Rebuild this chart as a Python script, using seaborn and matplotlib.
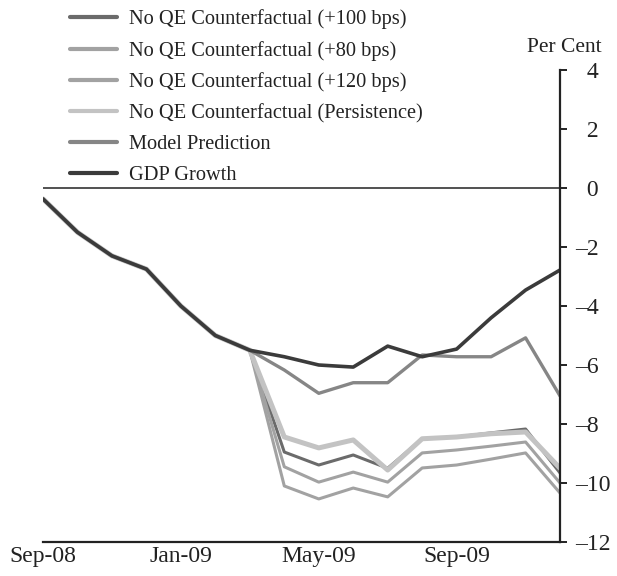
import pandas as pd
import matplotlib.pyplot as plt
import seaborn as sns

months = ['Sep-08', 'Oct-08', 'Nov-08', 'Dec-08', 'Jan-09', 'Feb-09', 'Mar-09', 'Apr-09',
          'May-09', 'Jun-09', 'Jul-09', 'Aug-09', 'Sep-09', 'Oct-09', 'Nov-09', 'Dec-09']

# common history up to Mar-09
history = [-0.37, -1.5, -2.3, -2.75, -4.0, -5.0, -5.5]

gdp = history + [-5.72, -6.0, -6.07, -5.36, -5.72, -5.46, -4.4, -3.46, -2.78]
model = history + [-6.17, -6.96, -6.6, -6.6, -5.66, -5.72, -5.72, -5.08, -7.05]
cf100 = history + [-8.95, -9.39, -9.05, -9.5, -8.5, -8.44, -8.3, -8.17, -9.66]
cf80 = history + [-9.45, -9.97, -9.63, -9.97, -8.98, -8.88, -8.75, -8.61, -10.0]
cf120 = history + [-10.1, -10.54, -10.17, -10.47, -9.49, -9.39, -9.19, -8.98, -10.34]
persist = history + [-8.44, -8.81, -8.54, -9.56, -8.5, -8.44, -8.33, -8.27, -9.5]

series = {
    'No QE Counterfactual (+100 bps)': cf100,
    'No QE Counterfactual (+80 bps)': cf80,
    'No QE Counterfactual (+120 bps)': cf120,
    'No QE Counterfactual (Persistence)': persist,
    'Model Prediction': model,
    'GDP Growth': gdp,
}
colors = ['#6b6b6b', '#a2a2a2', '#a2a2a2', '#c3c3c3', '#868686', '#3b3b3b']
widths = [2.2, 2.2, 2.2, 3.6, 2.4, 2.6]

xticks = ['Sep-08', 'Jan-09', 'May-09', 'Sep-09']
yticks = [4, 2, 0, -2, -4, -6, -8, -10, -12]

rows = []
for name, vals in series.items():
    for i, v in enumerate(vals):
        rows.append({'month': i, 'value': v, 'series': name})
df = pd.DataFrame(rows)

sns.set_style("white")
plt.rcParams['font.family'] = ['Liberation Serif', 'DejaVu Serif']

fig = plt.figure(figsize=(6.17, 5.76), dpi=100)
ax = fig.add_axes([0.0697, 0.059, 0.838, 0.8195])

ax.axhline(0, color='#222222', lw=1.1, zorder=1)

for (name, vals), c, w in zip(series.items(), colors, widths):
    sns.lineplot(data=df[df['series'] == name], x='month', y='value', color=c,
                 lw=w, ax=ax, label=name, legend=False)

ax.set_xlim(0, 15)
ax.set_ylim(-12, 4)
ax.set_xticks([months.index(m) for m in xticks])
ax.set_xticklabels(xticks)
ax.set_yticks(yticks)
# en dash for negatives, figure space keeps the digits aligned
ax.set_yticklabels([('\u2013%d' % -v) if v < 0 else ('\u2007%d' % v) for v in yticks])
ax.yaxis.tick_right()
ax.set(xlabel=None, ylabel=None)

for s in ['top', 'left']:
    ax.spines[s].set_visible(False)
for s in ['bottom', 'right']:
    ax.spines[s].set_linewidth(1.6)
    ax.spines[s].set_color('#222222')

ax.tick_params(axis='x', direction='in', length=6, width=1.4, labelsize=17, pad=3, colors='#222222')
ax.tick_params(axis='y', direction='out', length=5, width=1.4, labelsize=17, pad=6, colors='#222222')

fig.text(0.915, 0.918, 'Per Cent', fontsize=15.5, ha='center', va='center', color='#222222')

handles, labels = ax.get_legend_handles_labels()
leg = fig.legend(handles, labels, loc='upper left', bbox_to_anchor=(0.0836, 1.0155),
                 frameon=False, fontsize=14.7, handlelength=2.3, handletextpad=0.6,
                 labelspacing=0.57, labelcolor='#222222')
for h in leg.get_lines():
    h.set_linewidth(3.0)

plt.savefig('out.png', dpi=100)
